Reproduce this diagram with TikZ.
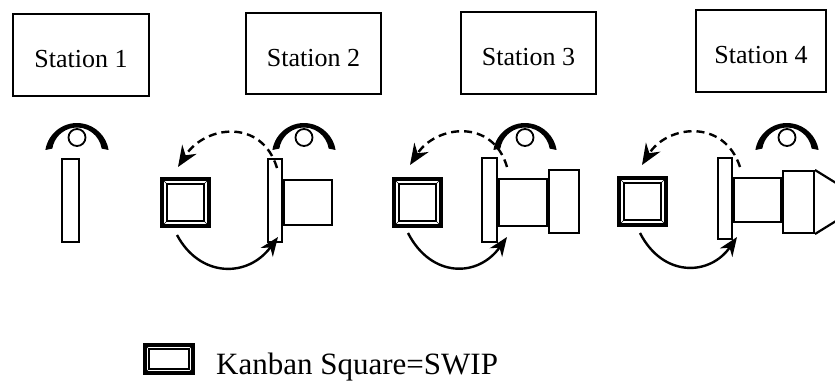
\documentclass[tikz,border=0pt]{standalone}
\usepackage{fontspec}
\setmainfont{Liberation Serif}
\usetikzlibrary{arrows.meta}

\tikzset{
  stationbox/.style={draw, line width=1.8pt, inner sep=0pt, text height=25pt, text depth=0pt,
    font=\fontsize{26}{30}\selectfont},
  fixture/.style={draw, line width=2.2pt, fill=white, inner sep=0pt},
  partbox/.style={draw, line width=2.2pt, inner sep=0pt},
  kbframe/.style={draw, line width=4pt, inner sep=0pt,
    path picture={
      \draw[line width=2pt]
        ([shift={(#1,-#1)}]path picture bounding box.north west) rectangle
        ([shift={(-#1,#1)}]path picture bounding box.south east);
      \draw[line width=0.6pt]
        (path picture bounding box.north west) -- ([shift={(#1,-#1)}]path picture bounding box.north west)
        (path picture bounding box.north east) -- ([shift={(-#1,-#1)}]path picture bounding box.north east)
        (path picture bounding box.south west) -- ([shift={(#1,#1)}]path picture bounding box.south west)
        (path picture bounding box.south east) -- ([shift={(-#1,#1)}]path picture bounding box.south east);
    }},
  pullback/.style={line width=2.4pt, dash pattern=on 8pt off 5pt,
    -{Stealth[length=21pt, width=17pt, inset=7pt]}},
  feed/.style={line width=2.4pt, -{Stealth[length=19pt, width=15pt, inset=6pt]}},
  operator/.pic={
    % shoulders as a crescent, head as a small circle
    \fill (189:32) arc[start angle=189, end angle=351, radius=32]
      -- ([shift={(0,-2.5)}]351:25) arc[start angle=351, end angle=189, radius=25] -- cycle;
    \draw[line width=1.8pt, fill=white] (0,-17.5) circle[radius=8.5];
  }
}

\begin{document}
\begin{tikzpicture}[x=1pt, y=-1pt]
  \useasboundingbox (0,0) rectangle (835,383);

  % station labels
  \node[stationbox, minimum width=136.2pt, minimum height=82.2pt] (s1) at (81,55) {Station 1};
  \node[stationbox, minimum width=135.2pt, minimum height=81.2pt] (s2) at (313.5,53.5) {Station 2};
  \node[stationbox, minimum width=135.2pt, minimum height=82.2pt] (s3) at (528.5,53) {Station 3};
  \node[stationbox, minimum width=130.2pt, minimum height=82.2pt] (s4) at (761,51) {Station 4};

  % operators
  \pic at (77,155) {operator};
  \pic at (304,155) {operator};
  \pic at (525,155) {operator};
  \pic at (787,155) {operator};

  % station 1: empty fixture
  \node[fixture, minimum width=16.8pt, minimum height=82.8pt] (b1) at (70.5,200.5) {};

  % station 2
  \node[partbox, minimum width=47.8pt, minimum height=44.8pt] (c2) at (308,202.5) {};
  \node[fixture, minimum width=13.8pt, minimum height=82.8pt] (b2) at (275,200.5) {};
  \node[kbframe=5.2pt, minimum width=47pt, minimum height=47pt] (k2) at (185.5,202.5) {};

  % station 3
  \node[partbox, minimum width=47.8pt, minimum height=46.8pt] (c3) at (523,202.5) {};
  \node[partbox, minimum width=29.8pt, minimum height=62.8pt] (d3) at (564,201.5) {};
  \node[fixture, minimum width=14.8pt, minimum height=83.8pt] (b3) at (489.5,200) {};
  \node[kbframe=5.2pt, minimum width=47pt, minimum height=47pt] (k3) at (417.5,202.5) {};

  % station 4
  \node[partbox, minimum width=46.8pt, minimum height=43.8pt] (c4) at (757.5,200) {};
  \node[partbox, minimum width=30.8pt, minimum height=61.8pt] (d4) at (798.5,202) {};
  \node[fixture, minimum width=13.8pt, minimum height=80.8pt] (b4) at (725,198.5) {};
  \node[kbframe=5.2pt, minimum width=47pt, minimum height=47pt] (k4) at (642.5,201.5) {};
  \coordinate (t4a) at (836,183);
  \coordinate (t4b) at (836,221);
  \draw[line width=2.2pt] (d4.north east) -- (t4a) (d4.south east) -- (t4b);

  % kanban loop ends
  \coordinate (p2) at (277,168);  \coordinate (q2) at (178,167);
  \coordinate (u2) at (177,235);  \coordinate (v2) at (278,237);
  \coordinate (p3) at (507,167);  \coordinate (q3) at (410,165);
  \coordinate (u3) at (408,233);  \coordinate (v3) at (507,237);
  \coordinate (p4) at (740,167);  \coordinate (q4) at (642,165);
  \coordinate (u4) at (640,233);  \coordinate (v4) at (737,237);

  % signal back (dashed) and part forward (solid)
  \draw[pullback] (p2) .. controls (262,118) and (205,125) .. (q2);
  \draw[feed] (u2) .. controls (200,278) and (248,278) .. (v2);
  \draw[pullback] (p3) .. controls (493,118) and (436,125) .. (q3);
  \draw[feed] (u3) .. controls (431,278) and (478,278) .. (v3);
  \draw[pullback] (p4) .. controls (724,118) and (667,125) .. (q4);
  \draw[feed] (u4) .. controls (663,278) and (710,276) .. (v4);

  % legend
  \node[kbframe=4.6pt, line width=3.6pt, minimum width=48.4pt, minimum height=28.4pt] (lg) at (169,359) {};
  \node[anchor=base west, font=\fontsize{31}{36}\selectfont, inner sep=0pt] (lgt) at (216,374) {Kanban Square=SWIP};
\end{tikzpicture}
\end{document}
